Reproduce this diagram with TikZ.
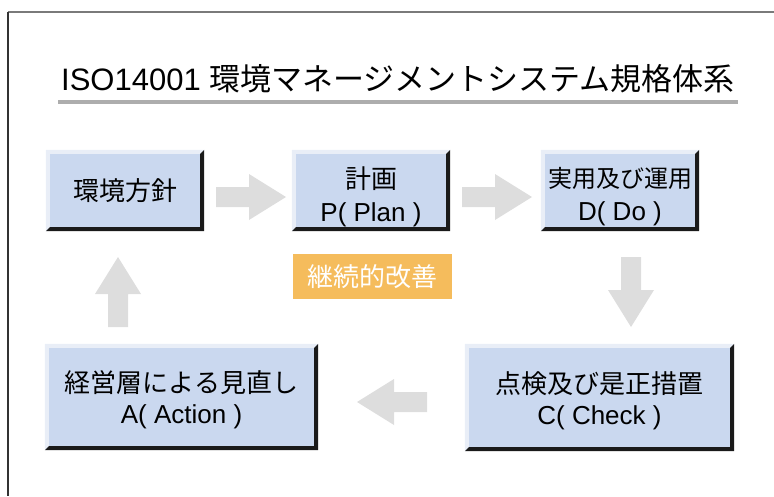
\documentclass[tikz,border=0pt]{standalone}
\usepackage{fontspec}
\setmainfont{Liberation Sans}
\newfontfamily\cjk{Noto Sans CJK JP}
\definecolor{boxblue}{HTML}{CAD8EF}
\definecolor{edgelight}{HTML}{E9EEF7}
\definecolor{edgedark}{HTML}{1A1A1A}
\definecolor{arrowgray}{HTML}{DDDDDD}
\definecolor{rulegray}{HTML}{ADADAD}
\definecolor{framegray}{HTML}{7A7A7A}
\definecolor{framedark}{HTML}{333333}
\definecolor{kaizenorange}{HTML}{F5BC5C}
\tikzset{
  stepbox/.style={fill=boxblue, inner sep=0pt},
  steptext/.style={inner sep=0pt, align=center, font=\fontsize{26}{33}\selectfont},
  blockarrow/.pic={\fill[arrowgray] (0,-10) -- (33,-10) -- (33,-23) -- (70,0)
     -- (33,23) -- (33,10) -- (0,10) -- cycle;}
}
\newcommand\bevelbox[1]{%
  \fill[edgelight] (#1.south west) -- (#1.north west) -- (#1.north east)
    -- ([shift={(-4,4)}]#1.north east) -- ([shift={(4,4)}]#1.north west)
    -- ([shift={(4,-4)}]#1.south west) -- cycle;
  \fill[edgedark] (#1.south west) -- (#1.south east) -- (#1.north east)
    -- ([shift={(-4,4)}]#1.north east) -- ([shift={(-4,-4)}]#1.south east)
    -- ([shift={(4,-4)}]#1.south west) -- cycle;}
\begin{document}
\begin{tikzpicture}[x=1pt,y=-1pt]
\useasboundingbox (0,0) rectangle (774,496);
% frame
\draw[framegray, line width=2pt] (8,12) -- (774,12);
\draw[framedark, line width=1.5pt] (8,12) -- (8,496);
% title
\node[font=\fontsize{31}{38}\selectfont, anchor=base, inner sep=0pt] (title) at (398,90)
  {ISO14001 {\cjk 環境マネージメントシステム規格体系}};
\fill[rulegray] (58,100) rectangle (738,104);
% boxes
\node[stepbox, minimum width=158, minimum height=81] (b1) at (125,190.5) {};
\node[stepbox, minimum width=158, minimum height=81] (b2) at (371,190.5) {};
\node[stepbox, minimum width=158, minimum height=81] (b3) at (620,190.5) {};
\node[stepbox, minimum width=269, minimum height=107] (b4) at (599.5,397.5) {};
\node[stepbox, minimum width=273, minimum height=106] (b5) at (181.5,397) {};
\foreach \n in {b1,b2,b3,b4,b5} {\bevelbox{\n}}
\node[steptext] (t1) at (b1.center) {\cjk 環境方針};
\node[steptext] (t2) at ([yshift=-6.5pt]b2.center) {{\cjk 計画}\\P( Plan )};
\node[steptext] (t3) at ([yshift=-6.5pt]b3.center) {{\cjk\fontsize{24}{33}\selectfont 実用及び運用}\\D( Do )};
\node[steptext, font=\fontsize{26}{31}\selectfont] (t4) at ([yshift=-3pt]b4.center) {{\cjk 点検及び是正措置}\\C( Check )};
\node[steptext, font=\fontsize{26}{31}\selectfont] (t5) at ([yshift=-3pt]b5.center) {{\cjk 経営層による見直し}\\A( Action )};
% block arrows
\pic (a12) at (216,197) {blockarrow};
\pic (a23) at (462,197) {blockarrow};
\pic[rotate=-90] (a34) at (631,257) {blockarrow};
\pic[rotate=180] (a45) at (427,402) {blockarrow};
\pic[rotate=90] (a51) at (118,327) {blockarrow};
% continual improvement label
\node[fill=kaizenorange, text=white, inner sep=0pt, minimum width=159, minimum height=45,
  font=\fontsize{26}{32}\selectfont] (kaizen) at (372.5,276.5) {\cjk 継続的改善};
\end{tikzpicture}
\end{document}
